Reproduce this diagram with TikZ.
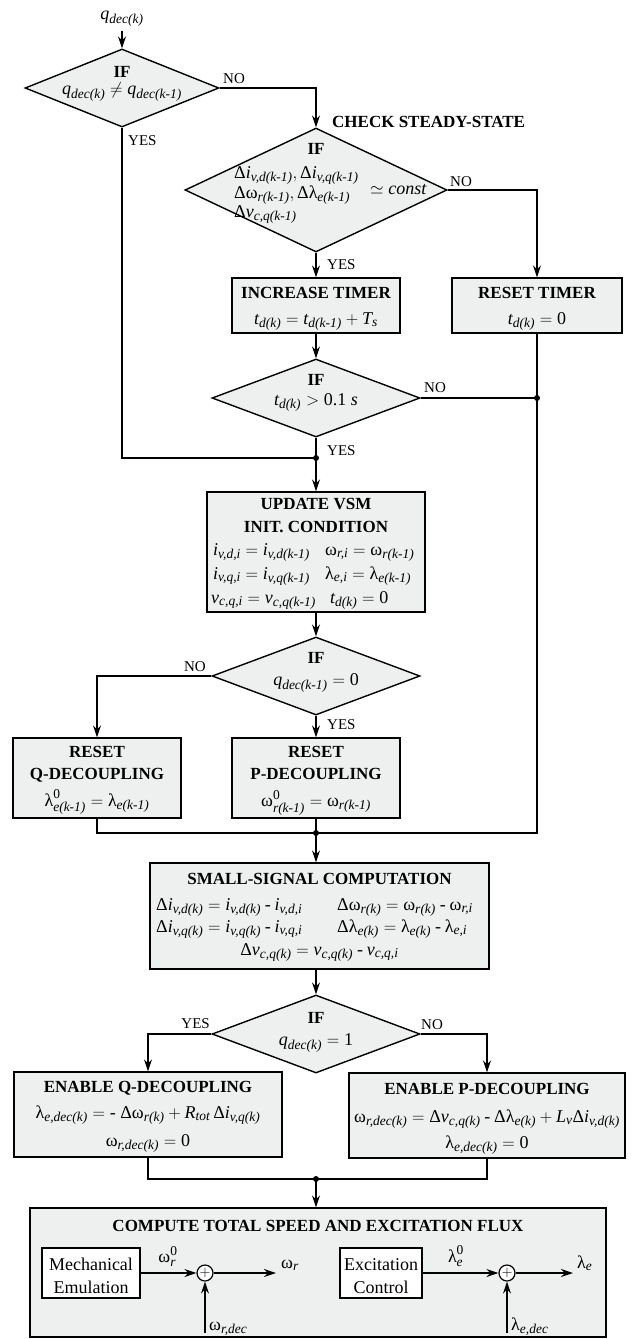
\documentclass[tikz,border=0pt]{standalone}
\usepackage{amsmath}
\usepackage{fontspec}
\setmainfont{Liberation Serif}
\usetikzlibrary{shapes.geometric,arrows.meta,calc}
\DeclareMathSizes{18}{18}{13.5}{10}
\definecolor{boxgray}{RGB}{238,239,239}
\newcommand\It[1]{\text{\itshape #1}}
\newcommand\gO{\text{ω}}
\newcommand\gL{\text{λ}}
\newcommand\gD{\text{Δ}}
\newcommand\mn{\mathbin{\text{-}}}
\begin{document}
\begin{tikzpicture}[x=1pt,y=-1pt,
  font=\fontsize{18}{21}\selectfont,
  line/.style={line width=1.4pt},
  arr/.style={line width=1.4pt,-{Stealth[length=12pt,width=8pt,inset=4pt]}},
  box/.style={rectangle,draw,fill=boxgray,line width=1.4pt,inner sep=0pt},
  wbox/.style={rectangle,draw,fill=white,line width=1.4pt,inner sep=0pt},
  dia/.style={diamond,draw,fill=boxgray,line width=1.4pt,inner sep=0pt,aspect=1},
  txt/.style={inner sep=0pt,anchor=base},
  tw/.style={inner sep=0pt,anchor=base west},
  ttl/.style={inner sep=0pt,anchor=base,font=\fontsize{17}{20}\selectfont\bfseries},
  lbl/.style={inner sep=0pt,font=\fontsize{15}{18}\selectfont},
  sumc/.style={circle,draw,fill=white,line width=1.2pt,inner sep=0pt,minimum size=16pt,font=\fontsize{15}{15}\selectfont}]
\useasboundingbox (0,0) rectangle (637,1339);

% ---------- top ----------
\node[txt] (qin) at (122,19) {$\It{q}_{\It{dec(k)}}$};
\node[dia,minimum width=194pt,minimum height=78pt] (d1) at (122,88) {};
\node[ttl] (d1if) at (122,77) {IF};
\node[txt] (d1eq) at (122,94) {$\It{q}_{\It{dec(k)}}\neq\It{q}_{\It{dec(k-1)}}$};
\node[lbl,anchor=base west] (no1) at (223,83) {NO};
\node[lbl,anchor=base west] (yes1) at (128,145) {YES};

% ---------- check steady state ----------
\node[dia,minimum width=262pt,minimum height=124pt] (d2) at (316,190) {};
\node[ttl,anchor=base west] (chk) at (332,127) {CHECK STEADY-STATE};
\node[ttl] (d2if) at (316,154) {IF};
\node[tw] (d2a) at (234,178) {$\gD\It{i}_{\It{v,d(k-1)}},\gD\It{i}_{\It{v,q(k-1)}}$};
\node[tw] (d2b) at (234,198) {$\gD\gO_{\It{r(k-1)}},\gD\gL_{\It{e(k-1)}}$};
\node[tw] (d2c) at (234,217) {$\gD\It{v}_{\It{c,q(k-1)}}$};
\node[tw] (d2d) at (370,194) {$\simeq\It{const}$};
\node[lbl,anchor=base west] (no2) at (450,186) {NO};
\node[lbl,anchor=base west] (yes2) at (327,269) {YES};

% ---------- timers ----------
\node[box,minimum width=168pt,minimum height=55pt] (it) at (316,305.5) {};
\node[ttl] (itt) at (316,298) {INCREASE TIMER};
\node[txt] (ite) at (316,324) {$\It{t}_{\It{d(k)}}=\It{t}_{\It{d(k-1)}}+\It{T}_{\It{s}}$};
\node[box,minimum width=170pt,minimum height=55pt] (rt) at (537,305.5) {};
\node[ttl] (rtt) at (537,298) {RESET TIMER};
\node[txt] (rte) at (537,324) {$\It{t}_{\It{d(k)}}=\text{0}$};

\node[dia,minimum width=208pt,minimum height=78pt] (d3) at (316,398) {};
\node[ttl] (d3if) at (316,385) {IF};
\node[txt] (d3eq) at (316,405) {$\It{t}_{\It{d(k)}}>\text{0.1 }\It{s}$};
\node[lbl,anchor=base west] (no3) at (424,392) {NO};
\node[lbl,anchor=base west] (yes3) at (327,455) {YES};
\coordinate (j1) at (316,458);
\coordinate (j4) at (537,398);

% ---------- update ----------
\node[box,minimum width=218pt,minimum height=120pt] (upd) at (316,552) {};
\node[ttl] (upt1) at (316,509) {UPDATE VSM};
\node[ttl] (upt2) at (316,532) {INIT. CONDITION};
\node[tw] (u1a) at (213,555) {$\It{i}_{\It{v,d,i}}=\It{i}_{\It{v,d(k-1)}}$};
\node[tw] (u1b) at (325,555) {$\gO_{\It{r,i}}=\gO_{\It{r(k-1)}}$};
\node[tw] (u2a) at (213,579) {$\It{i}_{\It{v,q,i}}=\It{i}_{\It{v,q(k-1)}}$};
\node[tw] (u2b) at (325,579) {$\gL_{\It{e,i}}=\gL_{\It{e(k-1)}}$};
\node[tw] (u3a) at (211,603) {$\It{v}_{\It{c,q,i}}=\It{v}_{\It{c,q(k-1)}}$};
\node[tw] (u3b) at (330,603) {$\It{t}_{\It{d(k)}}=\text{0}$};

\node[dia,minimum width=208pt,minimum height=78pt] (d4) at (316,676) {};
\node[ttl] (d4if) at (316,663) {IF};
\node[txt] (d4eq) at (316,685) {$\It{q}_{\It{dec(k-1)}}=\text{0}$};
\node[lbl,anchor=base east] (no4) at (206,671) {NO};
\node[lbl,anchor=base west] (yes4) at (327,729) {YES};

% ---------- reset decoupling ----------
\node[box,minimum width=168pt,minimum height=80pt] (rq) at (97,778) {};
\node[ttl] (rqt1) at (97,757) {RESET};
\node[ttl] (rqt2) at (97,779) {Q-DECOUPLING};
\node[txt] (rqe) at (97,806) {$\gL^{\text{0}}_{\It{e(k-1)}}=\gL_{\It{e(k-1)}}$};
\node[box,minimum width=168pt,minimum height=80pt] (rp) at (316,778) {};
\node[ttl] (rpt1) at (316,757) {RESET};
\node[ttl] (rpt2) at (316,779) {P-DECOUPLING};
\node[txt] (rpe) at (316,806) {$\gO^{\text{0}}_{\It{r(k-1)}}=\gO_{\It{r(k-1)}}$};
\coordinate (j2) at (316,833);

% ---------- small signal ----------
\node[box,minimum width=339pt,minimum height=106pt] (ss) at (319.5,916) {};
\node[ttl] (sst) at (319.5,884) {SMALL-SIGNAL COMPUTATION};
\node[tw] (s1a) at (156,910) {$\gD\It{i}_{\It{v,d(k)}}=\It{i}_{\It{v,d(k)}}\mn\It{i}_{\It{v,d,i}}$};
\node[tw] (s1b) at (337,910) {$\gD\gO_{\It{r(k)}}=\gO_{\It{r(k)}}\mn\gO_{\It{r,i}}$};
\node[tw] (s2a) at (156,932) {$\gD\It{i}_{\It{v,q(k)}}=\It{i}_{\It{v,q(k)}}\mn\It{i}_{\It{v,q,i}}$};
\node[tw] (s2b) at (337,932) {$\gD\gL_{\It{e(k)}}=\gL_{\It{e(k)}}\mn\gL_{\It{e,i}}$};
\node[txt] (s3) at (319.5,955) {$\gD\It{v}_{\It{c,q(k)}}=\It{v}_{\It{c,q(k)}}\mn\It{v}_{\It{c,q,i}}$};

\node[dia,minimum width=208pt,minimum height=78pt] (d5) at (316,1034) {};
\node[ttl] (d5if) at (316,1023) {IF};
\node[txt] (d5eq) at (316,1045) {$\It{q}_{\It{dec(k)}}=\text{1}$};
\node[lbl,anchor=base east] (yes5) at (210,1028) {YES};
\node[lbl,anchor=base west] (no5) at (421,1029) {NO};

% ---------- enable decoupling ----------
\node[box,minimum width=268pt,minimum height=85pt] (eq) at (148,1114.5) {};
\node[ttl] (eqt) at (148,1092) {ENABLE Q-DECOUPLING};
\node[txt] (eqe1) at (148,1118) {$\gL_{\It{e,dec(k)}}=\text{- }\gD\gO_{\It{r(k)}}+\It{R}_{\It{tot}}\,\gD\It{i}_{\It{v,q(k)}}$};
\node[txt] (eqe2) at (148,1146) {$\gO_{\It{r,dec(k)}}=\text{0}$};
\node[box,minimum width=276pt,minimum height=85pt] (ep) at (487,1115.5) {};
\node[ttl] (ept) at (487,1094) {ENABLE P-DECOUPLING};
\node[txt] (epe1) at (487,1122) {$\gO_{\It{r,dec(k)}}=\gD\It{v}_{\It{c,q(k)}}\mn\gD\gL_{\It{e(k)}}+\It{L}_{\It{v}}\gD\It{i}_{\It{v,d(k)}}$};
\node[txt] (epe2) at (487,1148) {$\gL_{\It{e,dec(k)}}=\text{0}$};
\coordinate (j3) at (316,1179);

% ---------- bottom ----------
\node[box,minimum width=576pt,minimum height=129pt] (bb) at (318,1272.5) {};
\node[ttl] (bbt) at (318,1231) {COMPUTE TOTAL SPEED AND EXCITATION FLUX};
\node[wbox,minimum width=98pt,minimum height=50pt] (mech) at (91,1273) {};
\node[txt] (mech1) at (91,1270) {Mechanical};
\node[txt] (mech2) at (91,1293) {Emulation};
\node[sumc] (s1) at (205,1273) {$+$};
\coordinate (o1) at (276,1273);
\coordinate (i1) at (205,1333);
\node[txt] (w0) at (168,1262) {$\gO^{\text{0}}_{\It{r}}$};
\node[tw] (wr) at (281,1268) {$\gO_{\It{r}}$};
\node[tw] (wrd) at (209,1330) {$\gO_{\It{r,dec}}$};
\node[wbox,minimum width=82pt,minimum height=50pt] (exc) at (381,1273) {};
\node[txt] (exc1) at (381,1270) {Excitation};
\node[txt] (exc2) at (381,1293) {Control};
\node[sumc] (s2) at (507,1273) {$+$};
\coordinate (o2) at (573,1273);
\coordinate (i2) at (507,1333);
\node[txt] (l0) at (456,1262) {$\gL^{\text{0}}_{\It{e}}$};
\node[tw] (le) at (577,1268) {$\gL_{\It{e}}$};
\node[tw] (led) at (511,1330) {$\gL_{\It{e,dec}}$};

% ---------- connectors ----------
\draw[arr] ([yshift=-4pt]qin.south) -- (d1.north);
\draw[arr] (d1.east) -| (d2.north);
\draw[line] (d1.south) |- (j1);
\draw[arr] (d2.south) -- (it.north);
\draw[arr] (d2.east) -| (rt.north);
\draw[arr] (it.south) -- (d3.north);
\draw[line] (d3.east) -- (j4);
\draw[line] (d3.south) -- (j1);
\draw[line] (rt.south) -- (j4) |- (j2);
\draw[arr] (j1) -- (upd.north);
\draw[arr] (upd.south) -- (d4.north);
\draw[arr] (d4.west) -| (rq.north);
\draw[arr] (d4.south) -- (rp.north);
\draw[line] (rq.south) |- (j2);
\draw[line] (rp.south) -- (j2);
\draw[arr] (j2) -- (j2 |- ss.north);
\draw[arr] (d5.north |- ss.south) -- (d5.north);
\draw[arr] (d5.west) -| (eq.north);
\draw[arr] (d5.east) -| (ep.north);
\draw[line] (eq.south) |- (j3);
\draw[line] (ep.south) |- (j3);
\draw[arr] (j3) -- (j3 |- bb.north);
\draw[arr] (mech.east) -- (s1.west);
\draw[arr] (s1.east) -- (o1);
\draw[arr] (i1) -- (s1.south);
\draw[arr] (exc.east) -- (s2.west);
\draw[arr] (s2.east) -- (o2);
\draw[arr] (i2) -- (s2.south);
\foreach \p in {j1,j2,j3,j4} \fill (\p) circle (3pt);
\end{tikzpicture}
\end{document}
